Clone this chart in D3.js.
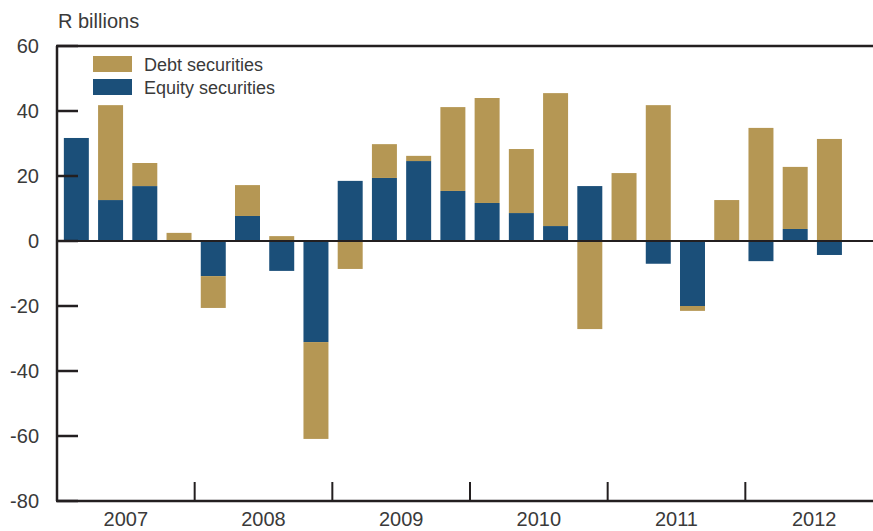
<!DOCTYPE html>
<html>
<head>
<meta charset="utf-8">
<script src="https://cdn.jsdelivr.net/npm/d3@7"></script>
<style>
  html, body { margin: 0; padding: 0; background: #fff; }
  svg { display: block; }
  text { font-family: "Liberation Sans", Arial, sans-serif; fill: #3a3a3a; }
</style>
</head>
<body>
<svg id="chart" width="873" height="531"></svg>
<script>
// ---- data ----
const quarters = [
  "2007Q1","2007Q2","2007Q3","2007Q4",
  "2008Q1","2008Q2","2008Q3","2008Q4",
  "2009Q1","2009Q2","2009Q3","2009Q4",
  "2010Q1","2010Q2","2010Q3","2010Q4",
  "2011Q1","2011Q2","2011Q3","2011Q4",
  "2012Q1","2012Q2","2012Q3","2012Q4"
];
const equity = [31.7, 12.6, 16.9, 0.3, -10.8, 7.7, -9.2, -31.1,
                18.5, 19.4, 24.6, 15.4, 11.7, 8.6, 4.6, 16.9,
                0, -7.0, -20.0, 0, -6.2, 3.7, -4.3];
const debt   = [0, 29.2, 7.1, 2.2, -9.8, 9.5, 1.5, -29.8,
                -8.6, 10.4, 1.6, 25.8, 32.3, 19.7, 40.9, -27.1,
                20.9, 41.8, -1.5, 12.6, 34.8, 19.1, 31.4];
const years = [2007, 2008, 2009, 2010, 2011, 2012];
const yTicks = [60, 40, 20, 0, -20, -40, -60, -80];
const seriesNames = ["Debt securities", "Equity securities"];
const colors = { equity: "#1b4f79", debt: "#b59754" };

// ---- layout ----
const svg = d3.select("#chart");
const mLeft = 57, mTop = 46, mBottom = 501, mRight = 883;

const x = d3.scaleBand().domain(quarters).range([mLeft, mRight])
  .paddingInner(0.27).paddingOuter(0.2);
const xYear = d3.scaleLinear().domain([years[0], years[years.length - 1] + 1]).range([mLeft, mRight]);
const y = d3.scaleLinear().domain([-80, 60]).range([mBottom, mTop]);

const rows = equity.map((e, i) => ({ q: quarters[i], equity: e, debt: debt[i] }));
const stacked = d3.stack().keys(["equity", "debt"]).offset(d3.stackOffsetDiverging)(rows);

// bars
svg.append("g").selectAll("g").data(stacked).join("g")
  .attr("fill", s => colors[s.key])
  .selectAll("rect").data(s => s).join("rect")
  .attr("x", d => x(d.data.q))
  .attr("width", x.bandwidth())
  .attr("y", d => y(Math.max(d[0], d[1])))
  .attr("height", d => Math.abs(y(d[0]) - y(d[1])));

const axisColor = "#231f20";

// zero line
svg.append("line")
  .attr("x1", mLeft).attr("x2", 873)
  .attr("y1", y(0)).attr("y2", y(0))
  .attr("stroke", axisColor).attr("stroke-width", 2);

// frame: left, top, bottom
svg.append("line").attr("x1", mLeft).attr("x2", mLeft).attr("y1", mTop).attr("y2", mBottom)
  .attr("stroke", axisColor).attr("stroke-width", 2.5);
svg.append("line").attr("x1", mLeft - 1).attr("x2", 873).attr("y1", mTop).attr("y2", mTop)
  .attr("stroke", axisColor).attr("stroke-width", 2.5);
svg.append("line").attr("x1", mLeft - 1).attr("x2", 873).attr("y1", mBottom).attr("y2", mBottom)
  .attr("stroke", axisColor).attr("stroke-width", 2.5);

// y ticks & labels
const yg = svg.append("g");
yg.selectAll("line").data(yTicks).join("line")
  .attr("x1", mLeft).attr("x2", mLeft + 21)
  .attr("y1", d => y(d)).attr("y2", d => y(d))
  .attr("stroke", axisColor).attr("stroke-width", 2.5);
yg.selectAll("text").data(yTicks).join("text")
  .attr("x", 39).attr("y", d => y(d)).attr("dy", "0.36em")
  .attr("text-anchor", "end").attr("font-size", 20)
  .text(d => d);

// x year ticks & labels
const xg = svg.append("g");
xg.selectAll("line").data(years.slice(1)).join("line")
  .attr("x1", d => xYear(d)).attr("x2", d => xYear(d))
  .attr("y1", mBottom).attr("y2", mBottom - 19)
  .attr("stroke", axisColor).attr("stroke-width", 2);
xg.selectAll("text").data(years).join("text")
  .attr("x", d => xYear(d + 0.5)).attr("y", 526)
  .attr("text-anchor", "middle").attr("font-size", 20)
  .text(d => d);

// unit label
svg.append("text").attr("x", 58).attr("y", 28).attr("font-size", 20).text("R billions");

// legend
const legend = svg.append("g");
const legKeys = ["debt", "equity"];
legend.selectAll("rect").data(legKeys).join("rect")
  .attr("x", 93).attr("y", (d, i) => 56 + i * 23)
  .attr("width", 39).attr("height", 16)
  .attr("fill", d => colors[d]);
legend.selectAll("text").data(seriesNames).join("text")
  .attr("x", 144).attr("y", (d, i) => 71 + i * 23)
  .attr("font-size", 18)
  .text(d => d);
</script>
</body>
</html>
